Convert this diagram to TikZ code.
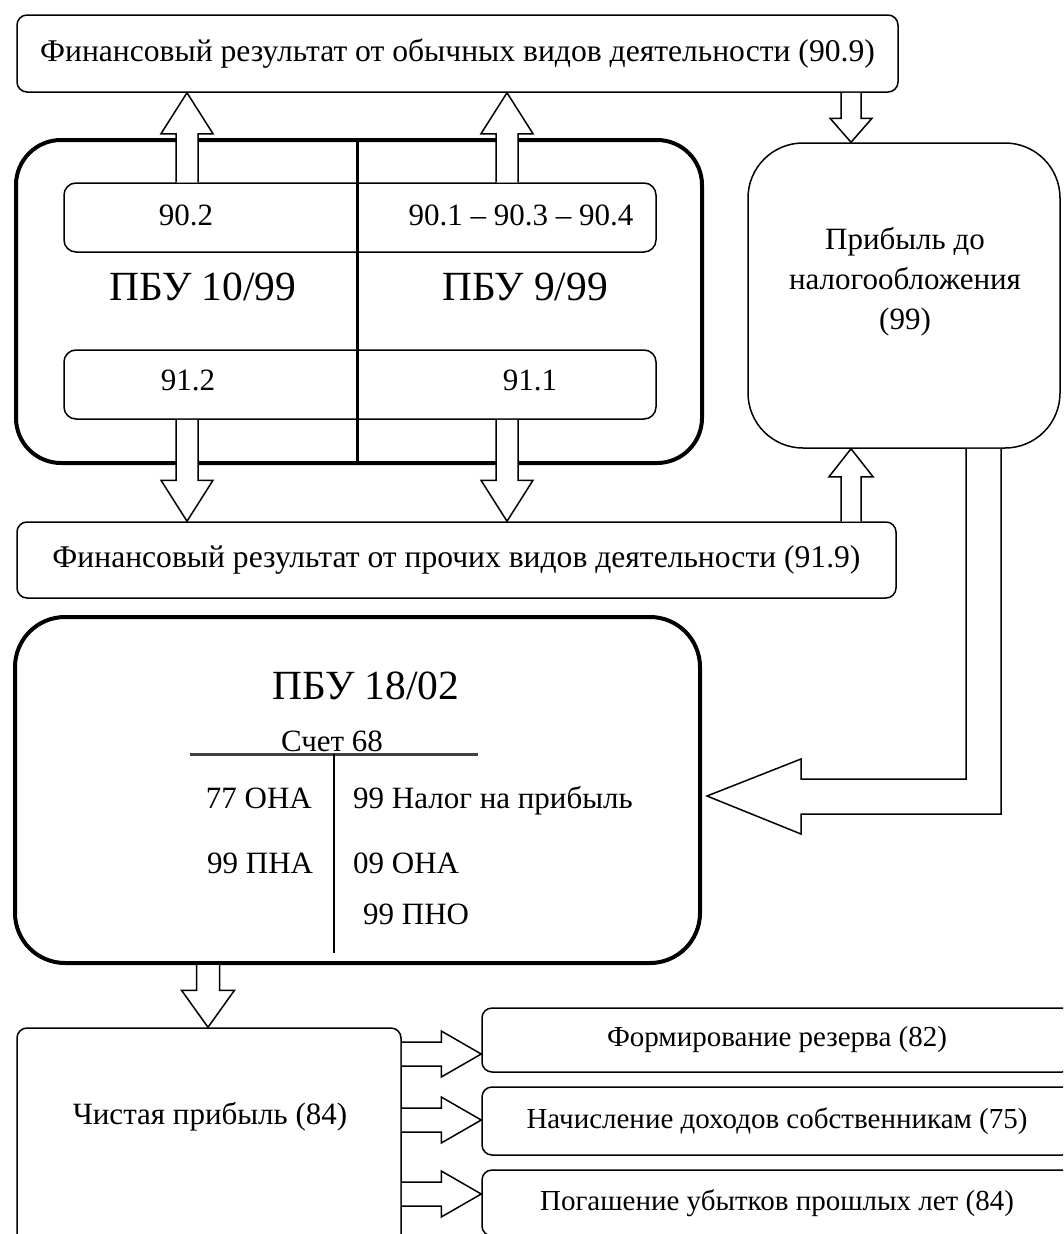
\documentclass[tikz,border=0pt]{standalone}
\usepackage{fontspec}
\setmainfont{Liberation Serif}
\usetikzlibrary{calc}
\tikzset{
  box/.style={draw, line width=1.5pt, rounded corners=10pt, inner sep=0pt, align=center,
    font=\fontsize{31}{40}\selectfont},
  widebox/.style={box, font=\fontsize{31.6}{40}\selectfont},
  heavy/.style={draw, line width=4pt, inner sep=0pt},
  txt/.style={inner sep=0pt, align=center, font=\fontsize{31}{40}\selectfont},
  bigtxt/.style={inner sep=0pt, font=\fontsize{41.5}{48}\selectfont},
  smalltxt/.style={inner sep=0pt, font=\fontsize{29}{34}\selectfont},
  blk/.style={draw, line width=1.5pt, fill=white, line join=miter},
  divider/.style={line width=3pt},
}
% block arrow: start, tip, head length, shaft half width, head half width
\newcommand{\blockarrow}[5]{%
  \path coordinate (ba-b) at ($(#2)!#3!(#1)$);
  \draw[blk] ($(#1)!#4!90:(#2)$) -- ($(ba-b)!#4!90:(#2)$) -- ($(ba-b)!#5!90:(#2)$)
    -- (#2) -- ($(ba-b)!#5!-90:(#2)$) -- ($(ba-b)!#4!-90:(#2)$) -- ($(#1)!#4!-90:(#2)$);
}
\begin{document}
\begin{tikzpicture}[x=1pt,y=-1pt]
\useasboundingbox (0,0) rectangle (1063,1234);
\clip (0,0) rectangle (1063,1234);

% ---- boxes ----
\node[widebox, minimum width=881pt, minimum height=77pt] (top) at (457.5,53.5)
  {Финансовый результат от обычных видов деятельности (90.9)};
\node[heavy, minimum width=686pt, minimum height=323pt, rounded corners=45pt] (big) at (359,301.5) {};
\node[box, minimum width=592pt, minimum height=69pt, rounded corners=12pt] (in1) at (360,217.5) {};
\node[box, minimum width=592pt, minimum height=69pt, rounded corners=12pt] (in2) at (360,384.5) {};
\coordinate (xdiv) at (357,0);
\draw[divider] (big.north -| xdiv) -- (big.south -| xdiv);

\node[txt] (t902) at (186,215) {90.2};
\node[txt] (t901) at (521,215) {90.1 – 90.3 – 90.4};
\node[bigtxt] (p10) at (203,287) {ПБУ 10/99};
\node[bigtxt] (p9) at (525,287) {ПБУ 9/99};
\node[txt] (t912) at (188,380) {91.2};
\node[txt] (t911) at (530,380) {91.1};

\node[box, minimum width=312pt, minimum height=305pt, rounded corners=55pt] (rb) at (904,295.5) {};
\node[txt] (rbt) at (905,282) {Прибыль до\\налогообложения\\(99)};

\node[widebox, minimum width=879pt, minimum height=76pt] (bot) at (456.5,560)
  {Финансовый результат от прочих видов деятельности (91.9)};

\node[heavy, minimum width=685pt, minimum height=346pt, rounded corners=50pt] (pb) at (357.5,790) {};
\node[bigtxt] (p18) at (366,686) {ПБУ 18/02};
\node[txt] (s68) at (332,741) {Счет 68};
\coordinate (hl1) at (190,754);
\coordinate (hl2) at (478,754);
\coordinate (vl1) at (334,754);
\coordinate (vl2) at (334,953);
\draw[line width=3pt, black!75] (hl1) -- (hl2);
\draw[line width=1.5pt] (vl1) -- (vl2);
\node[txt, anchor=base east] (a77) at (312,808) {77 ОНА};
\node[txt, anchor=base west] (a99n) at (353,808) {99 Налог на прибыль};
\node[txt, anchor=base west] (a99p) at (207,873) {99 ПНА};
\node[txt, anchor=base west] (a09) at (353,873) {09 ОНА};
\node[txt, anchor=base west] (a99o) at (363,924) {99 ПНО};

\node[box, minimum width=384pt, minimum height=220pt] (net) at (209,1138) {};
\node[txt] (nett) at (210,1117) {Чистая прибыль (84)};

\node[box, smalltxt, minimum width=590pt, minimum height=64pt] (r1) at (777,1040) {Формирование резерва (82)};
\node[box, smalltxt, minimum width=590pt, minimum height=68pt] (r2) at (777,1121) {Начисление доходов собственникам (75)};
\node[box, smalltxt, minimum width=590pt, minimum height=66pt] (r3) at (777,1203) {Погашение убытков прошлых лет (84)};

% ---- arrows ----
\coordinate (xL) at (187,0);
\coordinate (xR) at (507,0);
\coordinate (xT) at (851,0);
\coordinate (xN) at (208,0);
\coordinate (y1) at (0,1054);
\coordinate (y2) at (0,1120);
\coordinate (y3) at (0,1194);

\coordinate (uLs) at (in1.north -| xL); \coordinate (uLt) at (top.south -| xL);
\coordinate (uRs) at (in1.north -| xR); \coordinate (uRt) at (top.south -| xR);
\coordinate (dLs) at (in2.south -| xL); \coordinate (dLt) at (bot.north -| xL);
\coordinate (dRs) at (in2.south -| xR); \coordinate (dRt) at (bot.north -| xR);
\coordinate (tRs) at (top.south -| xT); \coordinate (tRt) at (rb.north -| xT);
\coordinate (bRs) at (bot.north -| xT); \coordinate (bRt) at (rb.south -| xT);
\coordinate (nNs) at (pb.south -| xN);  \coordinate (nNt) at (net.north -| xN);
\coordinate (h1s) at (net.east |- y1); \coordinate (h1t) at (r1.west |- y1);
\coordinate (h2s) at (net.east |- y2); \coordinate (h2t) at (r2.west |- y2);
\coordinate (h3s) at (net.east |- y3); \coordinate (h3t) at (r3.west |- y3);

\blockarrow{uLs}{uLt}{41pt}{11pt}{26pt}
\blockarrow{uRs}{uRt}{41pt}{11pt}{26pt}
\blockarrow{dLs}{dLt}{41pt}{11pt}{26pt}
\blockarrow{dRs}{dRt}{41pt}{11pt}{26pt}
\blockarrow{tRs}{tRt}{24pt}{10pt}{21pt}
\blockarrow{bRs}{bRt}{28pt}{10pt}{22pt}
\blockarrow{nNs}{nNt}{37pt}{11.5pt}{26.5pt}
\blockarrow{h1s}{h1t}{40pt}{12pt}{23pt}
\blockarrow{h2s}{h2t}{40pt}{12pt}{23pt}
\blockarrow{h3s}{h3t}{40pt}{12pt}{23pt}

% elbow arrow from profit-before-tax box to PBU 18/02
\coordinate (e1) at (rb.south -| 966,0);
\coordinate (e9) at (rb.south -| 1001,0);
\coordinate (etip) at (707,796);
\draw[blk] (e1) -- (966,779) -- (801,779) -- (801,759) -- (etip) -- (801,834) -- (801,814)
  -- (1001,814) -- (e9);
\end{tikzpicture}
\end{document}
